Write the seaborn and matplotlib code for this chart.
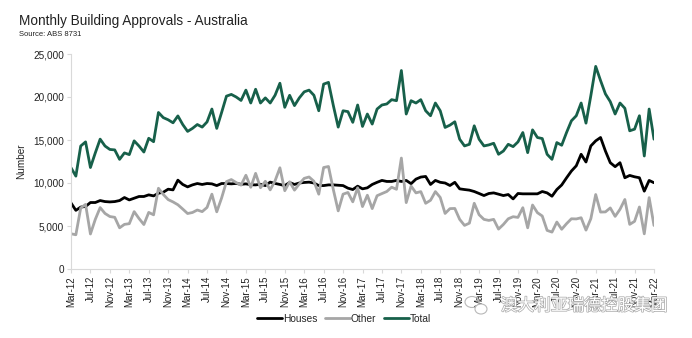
import matplotlib
matplotlib.use("Agg")
import matplotlib.pyplot as plt
import matplotlib.patheffects as pe
from matplotlib.patches import Ellipse
import seaborn as sns
import pandas as pd
import numpy as np

# ---- data ----
months = pd.date_range("2012-03-01", periods=121, freq="MS")

houses = [
    7680, 6820, 7200, 7270, 7730, 7730, 7960, 7840, 7800, 7840,
    7960, 8310, 8030, 8230, 8430, 8430, 8620, 8500, 8810, 8930,
    9280, 9200, 10330, 9830, 9550, 9780, 9940, 9830, 9940, 9900,
    9700, 9940, 9940, 9900, 9950, 9850, 9900, 9800, 9780, 9850,
    9700, 10100, 9950, 9830, 9700, 10060, 9830, 10000, 10060, 10100,
    10000, 9700, 9700, 9780, 9780, 9740, 9700, 9400, 9240, 9630,
    9320, 9440, 9830, 10080, 10300, 10180, 10180, 10300, 10180, 10300,
    9920, 10450, 10690, 10760, 9830, 10300, 10080, 10000, 9710, 10080,
    9320, 9240, 9170, 9010, 8780, 8540, 8780, 8850, 8700, 8540,
    8660, 8150, 8780, 8740, 8740, 8740, 8740, 9010, 8850, 8460,
    9240, 9770, 10600, 11390, 12000, 13340, 12440, 14310, 14900, 15290,
    13720, 12360, 11900, 12360, 10610, 10880, 10720, 10610, 9050, 10300,
    10030,
]

other = [
    4100, 3980, 7100, 7510, 4070, 5770, 7140, 6460, 6100, 6010,
    4790, 5190, 5270, 6670, 5870, 5170, 6580, 6300, 9390, 8670,
    8070, 7800, 7470, 6970, 6450, 6570, 6860, 6670, 7160, 8700,
    6650, 8260, 10160, 10400, 10050, 9750, 10900, 9500, 11120, 9450,
    10200, 9200, 10250, 11770, 9100, 10140, 9170, 9900, 10540, 10700,
    10200, 8700, 11800, 11920, 9220, 6760, 8700, 8900, 7810, 9440,
    7260, 8580, 7020, 8520, 8770, 9010, 9510, 9270, 12900, 7720,
    9650, 8850, 9000, 7640, 7990, 9000, 8320, 6460, 7020, 7040,
    5770, 5070, 5330, 7640, 6310, 5770, 5650, 5770, 4640, 5180,
    5840, 6080, 6000, 7130, 4790, 7440, 6550, 6160, 4490, 4290,
    5460, 4620, 5270, 5840, 5820, 5960, 4520, 5850, 8660, 6620,
    6640, 7100, 6120, 6940, 8080, 5190, 5540, 7210, 4090, 8300,
    5060,
]

total = [
    11780, 10800, 14300, 14780, 11800, 13500, 15100, 14300, 13900, 13850,
    12750, 13500, 13300, 14900, 14300, 13600, 15200, 14800, 18200, 17600,
    17350, 17000, 17800, 16800, 16000, 16350, 16800, 16500, 17100, 18600,
    16350, 18200, 20100, 20300, 20000, 19600, 20800, 19300, 20900, 19300,
    19900, 19300, 20200, 21600, 18800, 20200, 19000, 19900, 20600, 20800,
    20200, 18400, 21500, 21700, 19000, 16500, 18400, 18300, 17050, 19070,
    16580, 18020, 16850, 18600, 19070, 19190, 19690, 19570, 23080, 18020,
    19570, 19300, 19690, 18400, 17820, 19300, 18400, 16460, 16730, 17120,
    15090, 14310, 14500, 16650, 15090, 14310, 14430, 14620, 13340, 13720,
    14500, 14230, 14780, 15870, 13530, 16180, 15290, 15170, 13340, 12750,
    14700, 14390, 15870, 17230, 17820, 19300, 16960, 20160, 23560, 21910,
    20360, 19460, 18020, 19300, 18690, 16070, 16260, 17820, 13140, 18600,
    15090,
]

series_names = ["Houses", "Other", "Total"]
series_colors = ["#000000", "#a6a6a6", "#17604a"]
y_ticks = [0, 5000, 10000, 15000, 20000, 25000]

title_text = "Monthly Building Approvals - Australia"
source_text = "Source: ABS 8731"
y_label = "Number"
watermark = "澳大利亚瑞德控股集团"

# ---- build long-form table ----
idx = np.arange(len(months))
df = pd.concat([
    pd.DataFrame({"idx": idx, "value": houses, "series": "Houses"}),
    pd.DataFrame({"idx": idx, "value": other, "series": "Other"}),
    pd.DataFrame({"idx": idx, "value": total, "series": "Total"}),
])

sns.set_theme(style="white")
plt.rcParams["font.family"] = ["Liberation Sans Narrow", "Liberation Sans", "DejaVu Sans"]

fig = plt.figure(figsize=(6.92, 3.38), dpi=100)
ax = fig.add_axes([71 / 692, 1 - 269 / 338, (654 - 71) / 692, (269 - 54) / 338])

sns.lineplot(data=df, x="idx", y="value", hue="series", hue_order=series_names,
             palette=series_colors, linewidth=2.0, ax=ax, legend=True)

ax.set_xlim(0, len(months) - 1)
ax.set_ylim(0, 25000)
ax.set_yticks(y_ticks)
ax.set_yticklabels([f"{v:,}" for v in y_ticks], fontsize=7.2, color="#222222")
xt = idx[::4]
ax.set_xticks(xt)
ax.set_xticklabels([months[i].strftime("%b-%y") for i in xt], rotation=90,
                   fontsize=7, color="#222222")
ax.set_xlabel("")
ax.set_ylabel(y_label, fontsize=7.2, color="#222222", labelpad=5)

for s in ["top", "right"]:
    ax.spines[s].set_visible(False)
for s in ["left", "bottom"]:
    ax.spines[s].set_color("#d9d9d9")
    ax.spines[s].set_linewidth(0.8)
ax.tick_params(axis="both", which="both", length=3, width=0.8, color="#d9d9d9",
               pad=2, left=True, bottom=True)
ax.grid(False)

leg = ax.legend(loc="center", bbox_to_anchor=(344 / 692, 1 - 319 / 338),
                bbox_transform=fig.transFigure, ncol=3, frameon=False,
                fontsize=7.3, handlelength=2.5, handletextpad=0.1,
                columnspacing=0.7, borderaxespad=0, borderpad=0)
for line in leg.get_lines():
    line.set_linewidth(2.0)

fig.text(19 / 692, 1 - 21 / 338, title_text, fontsize=9.8, color="#222222",
         va="center", ha="left")
fig.text(19 / 692, 1 - 35 / 338, source_text, fontsize=5.5, color="#222222",
         va="center", ha="left")

# watermark
fig.text(584 / 692, 1 - 306 / 338, watermark, fontsize=12,
         family=["Noto Sans CJK SC", "DejaVu Sans"], color="white",
         ha="center", va="center",
         path_effects=[pe.withStroke(linewidth=1.0, foreground="#a8a8a8")])
fig.patches.append(Ellipse((472 / 692, 1 - 302 / 338), 14 / 692, 11 / 338,
                           transform=fig.transFigure, fill=False,
                           edgecolor="#b8b8b8", linewidth=0.8))
fig.patches.append(Ellipse((481 / 692, 1 - 309 / 338), 12 / 692, 10 / 338,
                           transform=fig.transFigure, facecolor="white",
                           edgecolor="#b8b8b8", linewidth=0.8))

fig.savefig("out.png", dpi=100, facecolor="white")
